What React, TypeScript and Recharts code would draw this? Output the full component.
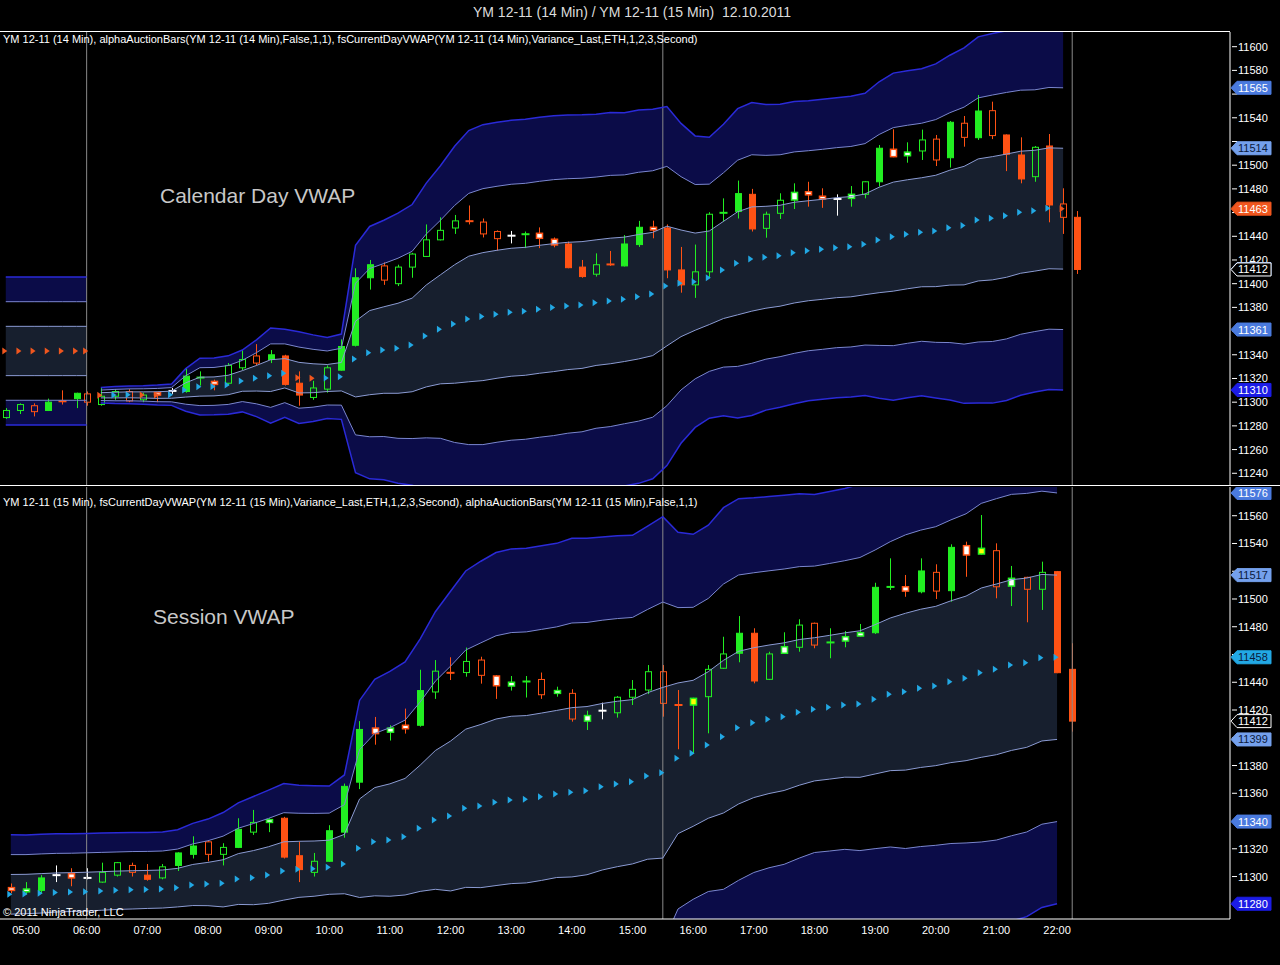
import React from "react";
import {
  Area,
  Bar,
  ComposedChart,
  Line,
  ReferenceDot,
  ReferenceLine,
  XAxis,
  YAxis,
} from "recharts";

const FONT = '"Liberation Sans", Arial, sans-serif';

const GREEN = "#22ee22";
const ORANGE = "#ff5214";
const UP = "#22a8e4";
const DOWN = "#f0561e";
const NAVY = "#0b0c48";
const SLATE = "#171f2e";
const B3 = "#2a2ad8";
const B2 = "#7a86cf";
const B1 = "#8b9bd3";

// x axis
const xTickLabels = [
  "05:00", "06:00", "07:00", "08:00", "09:00", "10:00", "11:00", "12:00", "13:00",
  "14:00", "15:00", "16:00", "17:00", "18:00", "19:00", "20:00", "21:00", "22:00",
];
const sessionLines = ["06:00", "15:30", "22:15"];

// ---- 14 min bars, calendar day vwap ----
const topTimes = [
  "04:40", "04:54", "05:08", "05:22", "05:36", "05:50", "06:00",
  "06:14", "06:28", "06:42", "06:56", "07:10", "07:24", "07:38", "07:52", "08:06", "08:20",
  "08:34", "08:48", "09:02", "09:16", "09:30", "09:44", "09:58", "10:12", "10:26", "10:40",
  "10:54", "11:08", "11:22", "11:36", "11:50", "12:04", "12:18", "12:32", "12:46", "13:00",
  "13:14", "13:28", "13:42", "13:56", "14:10", "14:24", "14:38", "14:52", "15:06", "15:20",
  "15:34", "15:48", "16:02", "16:16", "16:30", "16:44", "16:58", "17:12", "17:26", "17:40",
  "17:54", "18:08", "18:22", "18:36", "18:50", "19:04", "19:18", "19:32", "19:46", "20:00",
  "20:14", "20:28", "20:42", "20:56", "21:10", "21:24", "21:38", "21:52", "22:06", "22:20",
];
const topSessions = ["04:40", "06:14"];
const topStyle =
  "ggrGoGr" + "ggrgwxGtwg" + "grGRRggGGG" + "rgggggorrx" + "twwRRgoGGw" +
  "RRggtGRggW" + "wwxWgGwWgr" + "GrGrRRgRrR";
const topOpen = [
  11287, 11293, 11297, 11293, 11301, 11303, 11307,
  11298, 11305, 11309, 11302, 11308, 11309.5, 11309, 11321, 11317.5, 11316,
  11329, 11339, 11336, 11339, 11316, 11304, 11311, 11327, 11348, 11405,
  11415, 11400, 11414, 11423, 11437, 11447, 11453, 11452, 11444, 11440.5,
  11442, 11442.5, 11437.5, 11433.5, 11414, 11408, 11416.5, 11415, 11433, 11447.6,
  11447, 11411.6, 11399, 11410, 11460, 11461, 11475.4, 11446.7, 11459.4, 11470.6,
  11477.6, 11473.8, 11471.5, 11472, 11475.4, 11486, 11513.4, 11508, 11512, 11522,
  11506.3, 11535.4, 11523.2, 11546, 11525.5, 11508.6, 11490.3, 11516.2, 11467.3, 11456,
];
const topHigh = [
  11295, 11299, 11299, 11303, 11310, 11308, 11309,
  11312, 11311, 11311, 11308, 11309, 11312, 11329, 11326, 11319, 11333,
  11344, 11349, 11344, 11340, 11326, 11318, 11331, 11353, 11413, 11420,
  11418, 11416, 11426, 11450, 11456, 11458, 11466, 11455, 11445, 11444.5,
  11444, 11447.5, 11439, 11435.5, 11420, 11425.6, 11427.6, 11441, 11453, 11453.2,
  11450, 11431, 11433, 11460.3, 11472, 11487, 11480, 11460.8, 11476.3, 11484.7,
  11486, 11480.5, 11475.4, 11482.4, 11486.5, 11517, 11530.3, 11519.3, 11530, 11525.5,
  11537.3, 11541.5, 11559.2, 11553.6, 11526, 11523.5, 11516.2, 11526.3, 11480.5, 11461.3,
];
const topLow = [
  11286, 11290, 11288, 11292.5, 11298, 11295, 11297,
  11297, 11302, 11300, 11300, 11300, 11307, 11308, 11314, 11310, 11314,
  11327, 11331, 11333, 11314, 11297, 11302, 11308, 11326.5, 11347, 11395,
  11399, 11398, 11405, 11422.5, 11436.5, 11442, 11450, 11439, 11428, 11434,
  11430, 11430, 11430.7, 11413, 11405, 11406, 11415, 11414.5, 11431, 11438.3,
  11404.6, 11392.4, 11388, 11404.6, 11452.3, 11455, 11444, 11438.8, 11454.6, 11463,
  11465, 11464, 11457.4, 11465, 11472, 11482, 11506.7, 11502.1, 11504.4, 11499.3,
  11498, 11515.6, 11521.3, 11522, 11495, 11484.7, 11486, 11451.8, 11442, 11408.2,
];
const topClose = [
  11293, 11298, 11292, 11300, 11300.5, 11307.5, 11300,
  11305, 11309, 11301, 11306, 11306, 11309.5, 11322, 11320.5, 11315, 11331,
  11336, 11333, 11340, 11315, 11306, 11312, 11329, 11347, 11405, 11416,
  11403, 11414, 11425, 11437, 11445, 11453, 11452.5, 11442, 11438, 11440.5,
  11441.5, 11438.3, 11432.7, 11413.5, 11406, 11416, 11416, 11433.5, 11447.6, 11445.3,
  11411.6, 11399, 11410, 11458.6, 11459.6, 11476, 11446.2, 11458.6, 11470.4, 11477,
  11475, 11471.5, 11471.5, 11475.4, 11486, 11514.3, 11507.2, 11511, 11521.3, 11504.4,
  11536.2, 11523.5, 11545.7, 11525, 11509.2, 11488.4, 11515.1, 11466.4, 11456, 11412,
];
const topVwap = [
  11343.2, 11343.2, 11343.2, 11343.2, 11343.2, 11343.2, 11343.2,
  11305.8, 11306.0, 11306.2, 11306.1, 11306.0, 11306.3, 11310.3, 11313.1, 11313.3, 11314.5,
  11317.9, 11320.2, 11322.4, 11324.4, 11320.7, 11320.2, 11320.4, 11321.5, 11336.4, 11341.8,
  11344, 11345.5, 11348.3, 11355.9, 11361.5, 11366, 11370.2, 11372.2, 11374.2, 11375.9,
  11376.7, 11378.4, 11379.8, 11381.2, 11382, 11384, 11385.4, 11386.8, 11389, 11391.3,
  11398, 11400.3, 11401.7, 11405, 11411.6, 11417.2, 11420.8, 11422.3, 11423.6, 11426.2,
  11427.8, 11429, 11430.4, 11431.2, 11433.2, 11436.9, 11439.7, 11441.7, 11443.4, 11444.5,
  11447.3, 11449, 11453.8, 11455.2, 11457.4, 11460.3, 11461.6, 11463.6, 11463.3, null,
];
const topSigma = [
  20.8, 20.8, 20.8, 20.8, 20.8, 20.8, 20.8,
  2.2, 2.4, 2.5, 2.6, 2.8, 3.0, 6, 8, 8, 8.2,
  8.7, 10.8, 13.4, 12.4, 12.9, 12.2, 11.4, 12, 32, 35.5,
  36.5, 38, 39.5, 43, 46, 50, 53, 54, 54, 54,
  54, 54, 54, 53.7, 53.5, 53, 53, 52.5, 52.5, 52,
  50.5, 45, 41, 39.5, 41, 43.5, 44, 43, 42.6, 42.5,
  42.2, 42.2, 42.2, 42.3, 42.5, 44.5, 46, 46, 46, 47,
  48.5, 50, 51.5, 52, 52, 51.5, 51, 51, 51, null,
];
const topTicks = [
  11240, 11260, 11280, 11300, 11320, 11340, 11360, 11380, 11400, 11420,
  11440, 11460, 11480, 11500, 11520, 11540, 11560, 11580, 11600,
];

// ---- 15 min bars, session vwap ----
const botTimes = [
  "04:45", "05:00", "05:15", "05:30", "05:45", "06:00", "06:15", "06:30", "06:45", "07:00",
  "07:15", "07:30", "07:45", "08:00", "08:15", "08:30", "08:45", "09:00", "09:15", "09:30",
  "09:45", "10:00", "10:15", "10:30", "10:45", "11:00", "11:15", "11:30", "11:45", "12:00",
  "12:15", "12:30", "12:45", "13:00", "13:15", "13:30", "13:45", "14:00", "14:15", "14:30",
  "14:45", "15:00", "15:15", "15:30", "15:45", "16:00", "16:15", "16:30", "16:45", "17:00",
  "17:15", "17:30", "17:45", "18:00", "18:15", "18:30", "18:45", "19:00", "19:15", "19:30",
  "19:45", "20:00", "20:15", "20:30", "20:45", "21:00", "21:15", "21:30", "21:45", "22:00",
  "22:15",
];
const botSessions = ["04:45"];
const botStyle =
  "wWGxwxggrR" + "gGGrgGgWRR" + "gGGGwWwGgo" + "grwWtrWrWx" + "gggroyggGR" +
  "gWgrtWWGtw" + "GrGwyrWrgR" + "R";
const botOpen = [
  11292, 11289, 11290, 11301, 11302, 11299, 11296, 11301, 11308, 11301,
  11299, 11308, 11316, 11325, 11316, 11321, 11332, 11339, 11342, 11315,
  11303, 11311, 11332, 11368, 11407, 11404, 11409, 11409, 11433, 11447,
  11447, 11456, 11444.5, 11437.3, 11440.7, 11442, 11432, 11432, 11412, 11419.5,
  11418, 11429.2, 11434.4, 11447.6, 11423.8, 11423.6, 11429.6, 11450.1, 11460.9, 11475.3,
  11442.1, 11460.9, 11465.2, 11482.5, 11468.8, 11469.7, 11473.3, 11475.7, 11508.8, 11508.8,
  11505.2, 11519.2, 11506, 11538.4, 11532.4, 11534.8, 11509.3, 11515.6, 11507, 11519.7,
  11449.3,
];
const botHigh = [
  11295, 11296, 11301, 11308, 11306, 11306, 11310, 11310.5, 11310, 11309,
  11309, 11317.5, 11329, 11326, 11324, 11342, 11348, 11342, 11343, 11325,
  11317, 11337, 11367, 11412, 11415, 11409, 11421, 11449, 11456, 11458,
  11465, 11458.4, 11445.2, 11444.5, 11444.5, 11447, 11436.8, 11435, 11419.5, 11425.3,
  11430.1, 11441.6, 11452.4, 11452.4, 11434.4, 11428.8, 11452.4, 11472.8, 11487.7, 11478.9,
  11462, 11476, 11485.4, 11483, 11478.9, 11476.9, 11482, 11511.7, 11529.3, 11517.3,
  11529.3, 11525, 11539.4, 11541.3, 11560.5, 11540.1, 11523.8, 11516, 11526.9, 11520.2,
  11468.1,
];
const botLow = [
  11288, 11287, 11288, 11296, 11293, 11298, 11295.5, 11300, 11300, 11297,
  11298, 11304, 11313, 11311, 11308, 11320.5, 11330, 11332, 11313, 11296,
  11300, 11310.5, 11328, 11363, 11395, 11398, 11403, 11408, 11428, 11441.6,
  11444, 11439, 11428, 11434, 11429, 11428, 11429.6, 11411.6, 11405.6, 11413.3,
  11414.5, 11423.6, 11431.5, 11415.2, 11391.7, 11388.8, 11403.2, 11449.6, 11454.4, 11439.2,
  11441.6, 11460.5, 11462, 11464.5, 11457.3, 11465.2, 11472.8, 11474.8, 11506.5, 11501.6,
  11504.1, 11500, 11498, 11516, 11532, 11500.5, 11494.9, 11483.2, 11492.1, 11446.5,
  11404.4,
];
const botClose = [
  11290, 11291, 11299, 11301, 11299, 11299, 11303, 11310, 11303, 11298,
  11307, 11317, 11322, 11316, 11321, 11334, 11339, 11341, 11314, 11305,
  11311, 11333, 11365, 11406, 11403, 11407, 11406.5, 11434, 11448, 11446.6,
  11455, 11445, 11437.5, 11440, 11440.4, 11431, 11434, 11413.5, 11416, 11419.5,
  11429.2, 11434.9, 11447.6, 11424.8, 11423.4, 11428.4, 11449.3, 11460.4, 11475.3, 11440.9,
  11460.4, 11465.6, 11481.2, 11466.8, 11468.6, 11472.8, 11475.7, 11508.4, 11508.6, 11505.7,
  11520.2, 11505.7, 11537.2, 11531.7, 11536.5, 11508.8, 11514.9, 11507, 11519.2, 11446.9,
  11412,
];
const botVwap = [
  11287.2, 11287.4, 11287.9, 11288.5, 11288.8, 11289.1, 11289.6, 11290.1, 11290.4, 11290.7,
  11291.0, 11292, 11293.9, 11294.6, 11295.1, 11298.2, 11299.2, 11301.1, 11304, 11305.2,
  11305.7, 11306.7, 11309, 11320.4, 11325.1, 11326.3, 11328.7, 11334.8, 11340.8, 11343.6,
  11349.2, 11350.8, 11353.5, 11355.2, 11355.7, 11357.5, 11359.5, 11360.7, 11361.9, 11364.7,
  11366.7, 11368.3, 11372.5, 11374.8, 11385.2, 11388.8, 11394.8, 11400.8, 11407.3, 11410.9,
  11413.3, 11415.2, 11418.3, 11420.5, 11422, 11423.6, 11424.3, 11427.7, 11431.3, 11433.2,
  11435.6, 11437.3, 11440.4, 11442.8, 11446.9, 11449.3, 11452.4, 11454.1, 11457.7, 11458,
  null,
];
const botSigma = [
  14.3, 14.2, 14.2, 14.1, 14, 14, 13.9, 13.8, 13.8, 13.7,
  13.7, 13.9, 14.8, 15.6, 17, 18.3, 19.5, 20.4, 21, 20.2,
  19.9, 19.5, 21.4, 35.5, 39, 40.5, 42, 45.5, 50, 54,
  57, 58.8, 60, 60.3, 60.3, 60.3, 60.2, 61, 60.6, 60,
  59.6, 59.2, 60, 61.5, 54.3, 52.6, 52.8, 55, 55, 54,
  53.5, 53.2, 52.5, 51.6, 51.8, 52, 52.8, 53.8, 55, 56.5,
  57, 57.4, 58.3, 59.3, 61, 61.5, 61.5, 61, 60, 59.2,
  null,
];
const botTicks = [
  11280, 11300, 11320, 11340, 11360, 11380, 11400, 11420, 11440, 11460, 11480,
  11500, 11520, 11540, 11560,
];

const toMin = (s: string) => {
  const [h, m] = s.split(":").map(Number);
  return h * 60 + m;
};

const X_DOMAIN = [274.28, 1491.1];
const X_TICKS = xTickLabels.map(toMin);

function buildRows(times, open, high, low, close, style, vwap, sigma, sessions) {
  const rows: any[] = [];
  times.forEach((s, i) => {
    const t = toMin(s);
    const start = sessions.includes(s);
    if (start && i > 0) rows.push({ t: (t + toMin(times[i - 1])) / 2 });
    let vc = null;
    if (vwap[i] != null) {
      if (start || vwap[i - 1] == null) vc = close[i] >= vwap[i] ? UP : DOWN;
      else vc = vwap[i] > vwap[i - 1] ? UP : DOWN;
    }
    rows.push({
      t,
      o: open[i],
      h: high[i],
      l: low[i],
      c: close[i],
      st: style[i],
      vw: vwap[i],
      sd: sigma[i],
      vc,
    });
  });
  return rows;
}

const topRows = buildRows(topTimes, topOpen, topHigh, topLow, topClose, topStyle, topVwap, topSigma, topSessions);
const botRows = buildRows(botTimes, botOpen, botHigh, botLow, botClose, botStyle, botVwap, botSigma, botSessions);

const band = (k: number) => (d: any) => (d.sd == null ? null : d.vw + k * d.sd);
const range = (a: number, b: number) => (d: any) =>
  d.sd == null ? null : [d.vw + a * d.sd, d.vw + b * d.sd];
const hiLo = (d: any) => (d.h == null ? null : [d.l, d.h]);

const STYLES: any = {
  G: { stroke: GREEN, fill: GREEN },
  g: { stroke: GREEN, fill: "none" },
  R: { stroke: ORANGE, fill: ORANGE },
  r: { stroke: ORANGE, fill: "none" },
  w: { stroke: ORANGE, fill: "#ffffff", thick: true },
  W: { stroke: GREEN, fill: "#ffffff", thick: true },
  y: { stroke: GREEN, fill: "#ffff00", thick: true },
  t: { stroke: GREEN, tick: true },
  o: { stroke: ORANGE, tick: true },
  x: { stroke: "#ffffff", tick: true },
};

const Candle = (p: any) => {
  const d = p.payload;
  if (!d || d.h == null) return <g />;
  const y0 = Math.min(p.y, p.y + p.height);
  const y1 = Math.max(p.y, p.y + p.height);
  const k = (y1 - y0) / (d.h - d.l || 1);
  const Y = (v: number) => y0 + (d.h - v) * k;
  const cx = Math.round(p.x + p.width / 2) + 0.5;
  const s = STYLES[d.st];
  const bt = Y(Math.max(d.o, d.c));
  const bb = Y(Math.min(d.o, d.c));
  if (s.tick) {
    const ym = (bt + bb) / 2;
    return (
      <g>
        <line x1={cx} x2={cx} y1={y0} y2={y1} stroke={s.stroke} />
        <line x1={cx - 4} x2={cx + 4} y1={ym} y2={ym} stroke={s.stroke} strokeWidth={2} />
      </g>
    );
  }
  const bh = Math.max(bb - bt, 2);
  return (
    <g>
      <line x1={cx} x2={cx} y1={y0} y2={bt} stroke={s.stroke} />
      <line x1={cx} x2={cx} y1={bt + bh} y2={y1} stroke={s.stroke} />
      <rect
        x={cx - 3}
        y={bt}
        width={6}
        height={bh}
        fill={s.fill}
        stroke={s.stroke}
        strokeWidth={s.thick ? 1.5 : 1}
      />
    </g>
  );
};

const Tri = (p: any) => {
  if (p.cx == null || p.cy == null || !p.payload || p.payload.vw == null)
    return <g key={p.index} />;
  const x = p.cx - 1;
  const y = p.cy;
  return (
    <polygon
      key={p.index}
      points={`${x - 2.5},${y - 3.5} ${x + 2.5},${y} ${x - 2.5},${y + 3.5}`}
      fill={p.payload.vc}
    />
  );
};

const Flag = ({ cx, cy, m }: any) => (
  <g>
    <polygon
      points={`${cx + 1},${cy} ${cx + 7},${cy - 6.5} ${cx + 41},${cy - 6.5} ${cx + 41},${cy + 6.5} ${cx + 7},${cy + 6.5}`}
      fill={m.bg}
      stroke={m.border}
      strokeWidth={1}
    />
    <text x={cx + 8} y={cy + 4} fill={m.fg} fontSize={11} fontFamily={FONT}>
      {m.label}
    </text>
  </g>
);

function markersFor(rows: any[], domain: number[]) {
  const last = [...rows].reverse().find((r) => r.sd != null);
  const lastBar = [...rows].reverse().find((r) => r.c != null);
  const lv: any = {
    3: { bg: "#1c1ce6", fg: "#ffffff" },
    2: { bg: "#4a7ade", fg: "#ffffff" },
    1: { bg: "#74a0ec", fg: "#0b1a3c" },
  };
  const list: any[] = [];
  [3, 2, 1, -1, -2, -3].forEach((k) => {
    const v = last.vw + k * last.sd;
    const c = lv[Math.abs(k)];
    list.push({ v, bg: c.bg, fg: c.fg, border: c.bg });
  });
  list.push({
    v: last.vw,
    bg: last.vc,
    fg: last.vc === UP ? "#0b1a3c" : "#ffffff",
    border: last.vc,
  });
  list.push({ v: lastBar.c, bg: "#000000", fg: "#ffffff", border: "#ffffff" });
  return list
    .filter((m) => m.v >= domain[0] && m.v <= domain[1])
    .map((m) => ({ ...m, label: String(Math.round(m.v)) }));
}

const axisTick = { fill: "#ffffff", fontSize: 11, fontFamily: FONT };
const X_AXIS_H = 26;

function Panel({ rows, height, domain, yTicks, showX }: any) {
  const markers = markersFor(rows, domain);
  const plotH = height - (showX ? X_AXIS_H : 0);
  const ppu = plotH / (domain[1] - domain[0]);
  // tick labels that sit under a price marker are hidden behind it
  const covered = (v: number) => markers.some((m) => Math.abs(m.v - v) * ppu < 9);
  const YTick = (p: any) => {
    const v = p.payload.value;
    return (
      <g>
        <line x1={p.x - 5} x2={p.x} y1={p.y} y2={p.y} stroke="#ffffff" />
        {!covered(v) && (
          <text x={p.x + 1} y={p.y + 4} fill="#ffffff" fontSize={11} fontFamily={FONT}>
            {v}
          </text>
        )}
      </g>
    );
  };
  const xAxisProps = {
    type: "number" as const,
    dataKey: "t",
    domain: X_DOMAIN,
    allowDataOverflow: true,
    ticks: X_TICKS,
    interval: 0 as const,
  };
  return (
    <div style={{ position: "relative", width: 1280, height }}>
      <ComposedChart
        width={1280}
        height={height}
        data={rows}
        margin={{ top: 0, right: 0, bottom: 0, left: 0 }}
      >
        <XAxis
          {...xAxisProps}
          hide={!showX}
          height={X_AXIS_H}
          tickFormatter={(t) => `${String(Math.floor(t / 60)).padStart(2, "0")}:00`}
          tick={axisTick}
          tickLine={false}
          tickSize={5}
          axisLine={{ stroke: "#ffffff" }}
        />
        <YAxis
          orientation="right"
          type="number"
          domain={domain}
          allowDataOverflow
          ticks={yTicks}
          interval={0}
          width={50}
          tick={YTick}
          tickLine={false}
          tickSize={5}
          axisLine={{ stroke: "#ffffff" }}
        />
        <Area dataKey={range(2, 3)} fill={NAVY} fillOpacity={1} stroke="none" dot={false} activeDot={false} isAnimationActive={false} />
        <Area dataKey={range(-3, -2)} fill={NAVY} fillOpacity={1} stroke="none" dot={false} activeDot={false} isAnimationActive={false} />
        <Area dataKey={range(-1, 1)} fill={SLATE} fillOpacity={1} stroke="none" dot={false} activeDot={false} isAnimationActive={false} />
        {sessionLines.map((s) => (
          <ReferenceLine key={s} x={toMin(s)} stroke="#8a8a8a" strokeWidth={1} />
        ))}
        <Line dataKey={band(3)} stroke={B3} strokeWidth={1.5} dot={false} activeDot={false} isAnimationActive={false} />
        <Line dataKey={band(-3)} stroke={B3} strokeWidth={1.5} dot={false} activeDot={false} isAnimationActive={false} />
        <Line dataKey={band(2)} stroke={B2} strokeWidth={1} dot={false} activeDot={false} isAnimationActive={false} />
        <Line dataKey={band(-2)} stroke={B2} strokeWidth={1} dot={false} activeDot={false} isAnimationActive={false} />
        <Line dataKey={band(1)} stroke={B1} strokeWidth={1} dot={false} activeDot={false} isAnimationActive={false} />
        <Line dataKey={band(-1)} stroke={B1} strokeWidth={1} dot={false} activeDot={false} isAnimationActive={false} />
        <Line dataKey="vw" stroke="none" dot={Tri} activeDot={false} isAnimationActive={false} />
        <Bar dataKey={hiLo} barSize={7} shape={Candle} isAnimationActive={false} />
      </ComposedChart>
      {/* price markers on their own layer so they sit above the axis ticks */}
      <div style={{ position: "absolute", top: 0, left: 0, pointerEvents: "none" }}>
        <ComposedChart
          width={1280}
          height={height}
          data={rows}
          margin={{ top: 0, right: 50, bottom: showX ? X_AXIS_H : 0, left: 0 }}
        >
          <XAxis {...xAxisProps} hide />
          <YAxis type="number" domain={domain} allowDataOverflow hide />
          {markers.map((m, i) => (
            <ReferenceDot
              key={i}
              x={X_DOMAIN[1]}
              y={m.v}
              r={0}
              ifOverflow="visible"
              shape={(p: any) => <Flag cx={p.cx} cy={p.cy} m={m} />}
            />
          ))}
        </ComposedChart>
      </div>
    </div>
  );
}

const small: React.CSSProperties = {
  position: "absolute",
  color: "#ffffff",
  fontFamily: FONT,
  fontSize: 11,
  whiteSpace: "pre",
  lineHeight: "12px",
};
const big: React.CSSProperties = {
  position: "absolute",
  color: "#c8c8c8",
  fontFamily: FONT,
  fontSize: 21,
  whiteSpace: "pre",
};

export default function App() {
  return (
    <div style={{ position: "relative", width: 1280, height: 965, background: "#000", overflow: "hidden" }}>
      <style>{"body{margin:0;background:#000}"}</style>
      <div
        style={{
          position: "absolute",
          top: 4,
          left: 0,
          width: 1264,
          textAlign: "center",
          color: "#dcdcdc",
          fontFamily: FONT,
          fontSize: 14,
          whiteSpace: "pre",
        }}
      >
        {"YM 12-11 (14 Min) / YM 12-11 (15 Min)  12.10.2011"}
      </div>
      <div style={{ position: "absolute", top: 31, left: 0, width: 1230, height: 1, background: "#fff" }} />
      <div style={{ position: "absolute", top: 32, left: 0 }}>
        <Panel rows={topRows} height={453} domain={[11230.1, 11612.4]} yTicks={topTicks} showX={false} />
      </div>
      <div style={{ position: "absolute", top: 485, left: 0, width: 1280, height: 1, background: "#fff" }} />
      <div style={{ position: "absolute", top: 487, left: 0 }}>
        <Panel rows={botRows} height={458} domain={[11269.4, 11580.7]} yTicks={botTicks} showX={true} />
      </div>
      <div style={{ ...small, top: 33, left: 3 }}>
        {"YM 12-11 (14 Min), alphaAuctionBars(YM 12-11 (14 Min),False,1,1), fsCurrentDayVWAP(YM 12-11 (14 Min),Variance_Last,ETH,1,2,3,Second)"}
      </div>
      <div style={{ ...small, top: 496, left: 3 }}>
        {"YM 12-11 (15 Min), fsCurrentDayVWAP(YM 12-11 (15 Min),Variance_Last,ETH,1,2,3,Second), alphaAuctionBars(YM 12-11 (15 Min),False,1,1)"}
      </div>
      <div style={{ ...big, top: 184, left: 160 }}>Calendar Day VWAP</div>
      <div style={{ ...big, top: 605, left: 153 }}>Session VWAP</div>
      <div style={{ ...small, top: 906, left: 3 }}>{"\u00a9 2011 NinjaTrader, LLC"}</div>
    </div>
  );
}
